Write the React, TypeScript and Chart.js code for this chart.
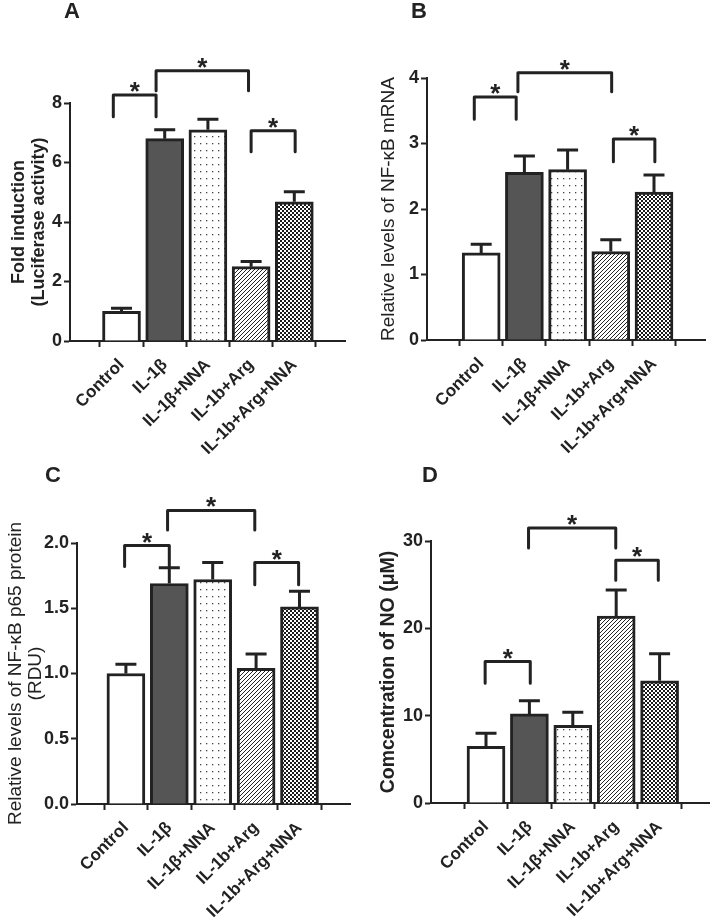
import React, { useEffect, useRef } from "react";
import { Chart, registerables } from "chart.js";

Chart.register(...registerables);

const FONT = '"Liberation Sans", Arial, Helvetica, sans-serif';
const INK = "#222222";

const categories = ["Control", "IL-1β", "IL-1β+NNA", "IL-1b+Arg", "IL-1b+Arg+NNA"];
const catIndex = [0, 1, 2, 3, 4];
const fillKinds = ["white", "dark", "dots", "hatch", "checker"];

// Panel A
const valuesA = [1.0, 6.8, 7.1, 2.5, 4.68];
const errorsA = [0.1, 0.3, 0.35, 0.17, 0.34];
const ticksA = [0, 2, 4, 6, 8];
// [from index, to index, top value, left leg end, right leg end]
const bracketsA = [
  [-0.19, 0.8, 8.27, 7.54, 7.54],
  [0.8, 2.94, 9.08, 8.41, 8.41],
  [3.0, 4.02, 7.07, 6.36, 6.36],
];

// Panel B
const valuesB = [1.33, 2.56, 2.6, 1.35, 2.26];
const errorsB = [0.13, 0.25, 0.3, 0.18, 0.26];
const ticksB = [0, 1, 2, 3, 4];
const bracketsB = [
  [-0.16, 0.81, 3.71, 3.37, 3.37],
  [0.85, 3.02, 4.08, 3.79, 3.79],
  [3.06, 4.02, 3.07, 2.72, 2.72],
];

// Panel C
const valuesC = [1.0, 1.69, 1.72, 1.04, 1.51];
const errorsC = [0.07, 0.12, 0.13, 0.11, 0.12];
const ticksC = [0, 0.5, 1.0, 1.5, 2.0];
const bracketsC = [
  [-0.03, 1.0, 1.98, 1.82, 1.82],
  [0.96, 2.97, 2.25, 2.1, 2.1],
  [2.97, 3.98, 1.85, 1.68, 1.68],
];

// Panel D
const valuesD = [6.5, 10.2, 8.9, 21.4, 14.0];
const errorsD = [1.5, 1.5, 1.5, 3.0, 3.1];
const ticksD = [0, 10, 20, 30];
const bracketsD = [
  [-0.02, 1.02, 16.2, 13.7, 13.7],
  [0.98, 2.99, 31.5, 29.2, 29.2],
  [2.99, 3.97, 27.8, 25.5, 25.5],
];

type PanelDef = {
  letter: string;
  left: number;
  top: number;
  width: number;
  height: number;
  area: { left: number; top: number; right: number; bottom: number };
  xRange: [number, number];
  yMax: number;
  ticks: number[];
  decimals: number;
  values: number[];
  errors: number[];
  brackets: number[][];
  title: string | string[];
  titleBold: boolean;
  titleSize: number;
  titleX: number;
  letterPos: { x: number; y: number };
};

const panels: PanelDef[] = [
  {
    letter: "A", left: 0, top: 0, width: 357, height: 460,
    area: { left: 70, top: 103, right: 345, bottom: 341 },
    xRange: [-0.556, 4.537], yMax: 8, ticks: ticksA, decimals: 0,
    values: valuesA, errors: errorsA, brackets: bracketsA,
    title: ["Fold induction", "(Luciferase activity)"], titleBold: true, titleSize: 18, titleX: 19,
    letterPos: { x: 64, y: 0 },
  },
  {
    letter: "B", left: 357, top: 0, width: 357, height: 460,
    area: { left: 70, top: 78, right: 348, bottom: 340 },
    xRange: [-0.611, 4.537], yMax: 4, ticks: ticksB, decimals: 0,
    values: valuesB, errors: errorsB, brackets: bracketsB,
    title: "Relative levels of NF-κB mRNA", titleBold: false, titleSize: 19, titleX: 32,
    letterPos: { x: 54, y: 0 },
  },
  {
    letter: "C", left: 0, top: 460, width: 357, height: 457,
    area: { left: 77, top: 83, right: 350, bottom: 344 },
    xRange: [-0.498, 4.535], yMax: 2, ticks: ticksC, decimals: 1,
    values: valuesC, errors: errorsC, brackets: bracketsC,
    title: ["Relative levels of NF-κB p65 protein", "(RDU)"], titleBold: false, titleSize: 19, titleX: 16,
    letterPos: { x: 45, y: 4 },
  },
  {
    letter: "D", left: 357, top: 460, width: 357, height: 457,
    area: { left: 74, top: 81, right: 352, bottom: 343 },
    xRange: [-0.627, 4.498], yMax: 30, ticks: ticksD, decimals: 0,
    values: valuesD, errors: errorsD, brackets: bracketsD,
    title: "Comcentration of NO (μM)", titleBold: true, titleSize: 19.5, titleX: 32,
    letterPos: { x: 65, y: 4 },
  },
];

function makeFill(kind: string): CanvasPattern | string {
  if (kind === "white") return "#ffffff";
  if (kind === "dark") return "#555555";
  const c = document.createElement("canvas");
  const ctx = c.getContext("2d")!;
  if (kind === "dots") {
    c.width = 6; c.height = 7;
    ctx.fillStyle = "#ffffff"; ctx.fillRect(0, 0, 6, 7);
    ctx.fillStyle = "#444444"; ctx.fillRect(2, 3, 1.3, 1.3);
  } else if (kind === "hatch") {
    c.width = 4; c.height = 4;
    ctx.fillStyle = "#ffffff"; ctx.fillRect(0, 0, 4, 4);
    ctx.strokeStyle = "#222222"; ctx.lineWidth = 1;
    ctx.beginPath();
    ctx.moveTo(-1, 5); ctx.lineTo(5, -1);
    ctx.moveTo(-1, 1); ctx.lineTo(1, -1);
    ctx.moveTo(3, 5); ctx.lineTo(5, 3);
    ctx.stroke();
  } else {
    c.width = 4; c.height = 4;
    ctx.fillStyle = "#ffffff"; ctx.fillRect(0, 0, 4, 4);
    ctx.fillStyle = "#1a1a1a";
    ctx.fillRect(0, 0, 2, 2); ctx.fillRect(2, 2, 2, 2);
  }
  return ctx.createPattern(c, "repeat") as CanvasPattern;
}

function Panel({ p }: { p: PanelDef }) {
  const ref = useRef<HTMLCanvasElement>(null);
  useEffect(() => {
    const canvas = ref.current!;
    const fills = fillKinds.map(makeFill);
    const overlay = {
      id: "overlay",
      afterDatasetsDraw(chart: any) {
        const ctx = chart.ctx as CanvasRenderingContext2D;
        const xs = chart.scales.x;
        const ys = chart.scales.y;
        const meta = chart.getDatasetMeta(0);
        ctx.save();
        ctx.strokeStyle = INK;
        ctx.fillStyle = INK;
        ctx.lineWidth = 3;
        ctx.lineCap = "butt";
        meta.data.forEach((el: any, i: number) => {
          const x = el.x;
          const y0 = el.y;
          const y1 = ys.getPixelForValue(p.values[i] + p.errors[i]);
          ctx.beginPath();
          ctx.moveTo(x, y0);
          ctx.lineTo(x, y1);
          ctx.moveTo(x - 10.5, y1);
          ctx.lineTo(x + 10.5, y1);
          ctx.stroke();
        });
        ctx.lineJoin = "round";
        ctx.lineCap = "round";
        p.brackets.forEach(([a, b, top, lb, rb]) => {
          const x1 = xs.getPixelForValue(a);
          const x2 = xs.getPixelForValue(b);
          const yt = ys.getPixelForValue(top);
          const yl = ys.getPixelForValue(lb);
          const yr = ys.getPixelForValue(rb);
          ctx.beginPath();
          ctx.moveTo(x1, yl);
          ctx.lineTo(x1, yt);
          ctx.lineTo(x2, yt);
          ctx.lineTo(x2, yr);
          ctx.stroke();
          ctx.font = `bold 26px ${FONT}`;
          ctx.textAlign = "center";
          ctx.textBaseline = "alphabetic";
          ctx.fillText("*", (x1 + x2) / 2, yt + 5);
        });
        ctx.restore();
      },
    };
    const axisGrid = {
      drawOnChartArea: false,
      drawTicks: true,
      tickLength: 6,
      tickWidth: 2,
      tickColor: INK,
    };
    const chart = new Chart(canvas, {
      type: "bar",
      data: {
        datasets: [
          {
            data: catIndex.map((i) => ({ x: i, y: p.values[i] })),
            backgroundColor: fills as any,
            borderColor: INK,
            borderWidth: 3,
            borderSkipped: "bottom",
            barThickness: 38,
          },
        ],
      },
      options: {
        responsive: false,
        animation: false,
        devicePixelRatio: 1,
        layout: {
          padding: { top: p.area.top, right: p.width - p.area.right, left: 0, bottom: 0 },
        },
        plugins: { legend: { display: false }, tooltip: { enabled: false } },
        scales: {
          x: {
            type: "linear",
            min: p.xRange[0],
            max: p.xRange[1],
            afterBuildTicks: (s: any) => {
              s.ticks = catIndex.map((v) => ({ value: v }));
            },
            afterFit: (s: any) => {
              s.height = p.height - p.area.bottom;
            },
            ticks: {
              autoSkip: false,
              minRotation: 45,
              maxRotation: 45,
              padding: 8,
              color: INK,
              font: { family: FONT, size: 17, weight: "bold" },
              callback: (v: any) => categories[Math.round(Number(v))] ?? "",
            },
            grid: axisGrid,
            border: { display: true, color: INK, width: 2 },
          },
          y: {
            min: 0,
            max: p.yMax,
            afterBuildTicks: (s: any) => {
              s.ticks = p.ticks.map((v) => ({ value: v }));
            },
            afterFit: (s: any) => {
              s.width = p.area.left;
            },
            ticks: {
              padding: 2,
              color: INK,
              font: { family: FONT, size: 18, weight: "bold" },
              callback: (v: any) => Number(v).toFixed(p.decimals),
            },
            grid: axisGrid,
            border: { display: true, color: INK, width: 2 },
            title: {
              display: true,
              text: p.title,
              color: INK,
              font: { family: FONT, size: p.titleSize, weight: p.titleBold ? "bold" : "normal", lineHeight: "20px" },
              padding: { top: p.titleX - 10, bottom: 0 },
            },
          },
        },
      } as any,
      plugins: [overlay],
    });
    return () => chart.destroy();
  }, [p]);

  return (
    <div style={{ position: "absolute", left: p.left, top: p.top, width: p.width, height: p.height }}>
      <canvas ref={ref} width={p.width} height={p.height} style={{ position: "absolute", left: 0, top: 0 }} />
      <div
        style={{
          position: "absolute",
          left: p.letterPos.x,
          top: p.letterPos.y,
          fontFamily: FONT,
          fontWeight: "bold",
          fontSize: 22,
          lineHeight: "22px",
          color: INK,
        }}
      >
        {p.letter}
      </div>
    </div>
  );
}

export default function App() {
  return (
    <div style={{ position: "absolute", left: 0, top: 0, width: 714, height: 917, background: "#ffffff" }}>
      {panels.map((p) => (
        <Panel key={p.letter} p={p} />
      ))}
    </div>
  );
}
